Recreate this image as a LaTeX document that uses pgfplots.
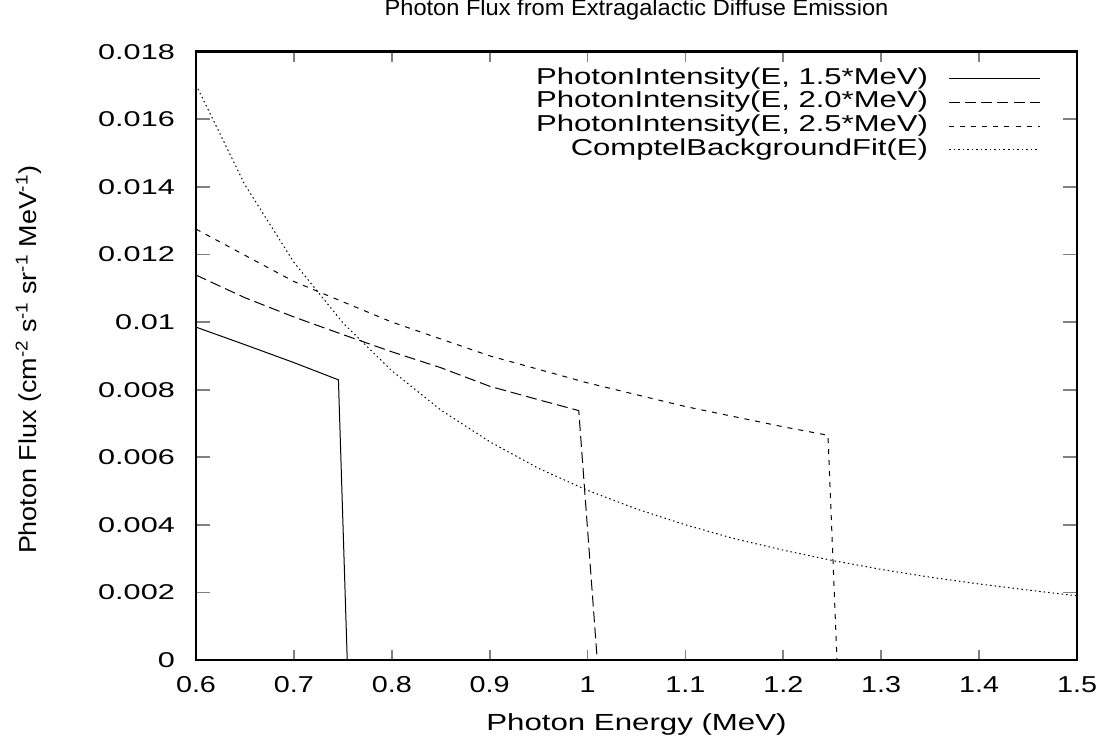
\documentclass[border=0pt]{standalone}
\usepackage{fontspec}
\setmainfont{Liberation Sans}
\usepackage{graphicx}
\usepackage{pgfplots}
\pgfplotsset{compat=1.18}

% gnuplot output is stretched sideways: widen the text boxes the same way
\newcommand{\sx}[2]{\scalebox{#1}[1]{#2}}
\newcommand{\legtxt}[1]{\fontsize{23}{23}\selectfont\sx{1.35}{#1}}

\begin{document}
\begin{tikzpicture}
\begin{axis}[
    name=ax,
    scale only axis,
    width=881pt, height=608.3pt,
    xmin=0.6, xmax=1.5, ymin=0, ymax=0.018,
    xtick={0.6,0.7,0.8,0.9,1,1.1,1.2,1.3,1.4,1.5},
    ytick={0,0.002,0.004,0.006,0.008,0.01,0.012,0.014,0.016,0.018},
    scaled y ticks=false,
    /pgf/number format/assume math mode=true,
    xticklabel={\fontsize{23}{23}\selectfont\sx{1.25}{\pgfmathprintnumber{\tick}}},
    yticklabel={\fontsize{21.4}{21.4}\selectfont\sx{1.43}{\pgfmathprintnumber[fixed,precision=3]{\tick}}},
    xticklabel style={anchor=north, inner sep=0pt, yshift=-16pt},
    yticklabel style={anchor=east, inner sep=0pt, xshift=-21pt},
    axis line style={line width=2.5pt},
    xtick style={line width=1.8pt, /pgfplots/major tick length=10pt},
    ytick style={line width=1.8pt, /pgfplots/major tick length=14pt},
    title={\sx{1.05}{Photon Flux from Extragalactic Diffuse Emission}},
    title style={font=\fontsize{22.5}{22.5}\selectfont, at={(axis description cs:0.5,1)}, anchor=base, inner sep=0pt, yshift=29.7pt},
    xlabel={\fontsize{23.3}{23.3}\selectfont\sx{1.34}{Photon Energy (MeV)}},
    xlabel style={at={(axis description cs:0.5,0)}, anchor=base, inner sep=0pt, yshift=-70pt},
    ylabel={\fontsize{24.5}{24.5}\selectfont\sx{1.1}{Photon Flux (cm\textsuperscript{-2} s\textsuperscript{-1} sr\textsuperscript{-1} MeV\textsuperscript{-1})}},
    ylabel style={at={([xshift=-159.3pt,yshift=-4pt]axis description cs:0,0.5)}, anchor=base, inner sep=0pt},
    legend style={draw=none, fill=none, inner sep=0pt, outer sep=0pt,
        at={(axis description cs:1,1)}, anchor=north east, xshift=-37pt, yshift=-15.2pt,
        column sep=21pt, row sep=0pt,
        nodes={inner sep=0pt, text height=17.3pt, text depth=6.4pt}},
    legend cell align=right,
    legend plot pos=right,
    legend image code/.code={\draw[#1] (0pt,0pt) -- (90pt,0pt);},
]

\addplot[black, line width=1pt] coordinates {
    (0.6,0.00985) (0.65,0.00933) (0.7,0.00880) (0.7455,0.00829) (0.7545,0)
};
\addlegendentry{\legtxt{PhotonIntensity(E, 1.5*MeV)}}

\addplot[black, line width=1pt, dash pattern=on 11pt off 5pt] coordinates {
    (0.6,0.01139) (0.65,0.01072) (0.7,0.01015) (0.75,0.00963) (0.8,0.00912)
    (0.85,0.00865) (0.9,0.0081) (0.95,0.0077) (0.991,0.00738) (1.0099,0)
};
\addlegendentry{\legtxt{PhotonIntensity(E, 2.0*MeV)}}

\addplot[black, line width=1pt, dash pattern=on 5pt off 6pt] coordinates {
    (0.6,0.01275) (0.7,0.0112) (0.8,0.0100) (0.9,0.0090) (1.0,0.0082)
    (1.1,0.0075) (1.2,0.0069) (1.2456,0.00665) (1.2548,0)
};
\addlegendentry{\legtxt{PhotonIntensity(E, 2.5*MeV)}}

\addplot[black, line width=1pt, dash pattern=on 1.5pt off 3pt] coordinates {
    (0.6,0.01702) (0.65,0.01406) (0.7,0.01177) (0.75,0.00998) (0.8,0.00856)
    (0.85,0.00740) (0.9,0.00646) (0.95,0.00567) (1.0,0.00502) (1.05,0.00447)
    (1.1,0.00400) (1.15,0.00359) (1.2,0.00325) (1.25,0.002945) (1.3,0.00268)
    (1.35,0.00245) (1.4,0.00225) (1.45,0.00207) (1.5,0.00190)
};
\addlegendentry{\legtxt{ComptelBackgroundFit(E)}}

\end{axis}
\pgfresetboundingbox
\path ([shift={(-196pt,-76pt)}]ax.south west) rectangle ([shift={(30pt,51.7pt)}]ax.north east);
\end{tikzpicture}
\end{document}
